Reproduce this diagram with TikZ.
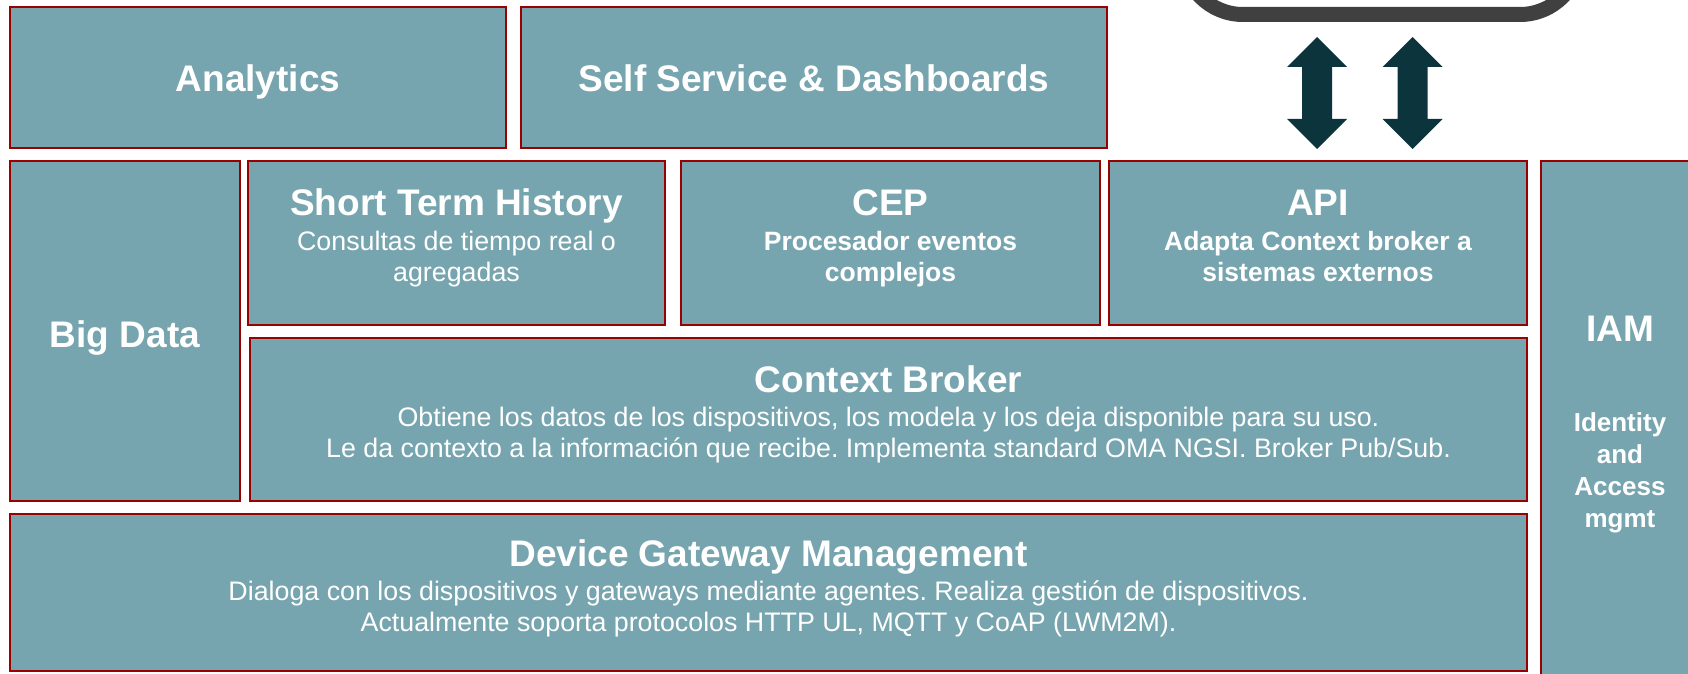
\documentclass[tikz,border=0pt]{standalone}
\usepackage{fontspec}
\setmainfont{Liberation Sans}
\frenchspacing
\definecolor{boxfill}{HTML}{76A5AF}
\definecolor{boxline}{HTML}{990000}
\definecolor{arrowcol}{HTML}{0C343D}
\definecolor{framegray}{HTML}{404040}
\tikzset{
  blk/.style={draw=boxline, fill=boxfill, line width=1pt, inner sep=0pt, outer sep=0pt},
  ttl/.style={text=white, font=\fontsize{18.5}{22}\selectfont\bfseries, anchor=base, inner sep=0pt},
  subr/.style={text=white, font=\fontsize{13.4}{16}\selectfont, anchor=base, inner sep=0pt},
  subb/.style={text=white, font=\fontsize{13.25}{16}\selectfont\bfseries, anchor=base, inner sep=0pt},
  desc/.style={text=white, font=\fontsize{13.4}{16}\selectfont, anchor=base, inner sep=0pt},
  iamsub/.style={text=white, font=\fontsize{13}{15}\selectfont\bfseries, anchor=base, inner sep=0pt},
  dblarrow/.style={fill=arrowcol, draw=none},
  frame/.style={draw=framegray, line width=7.5pt, rounded corners=30pt}
}
\begin{document}
\begin{tikzpicture}[x=0.5pt, y=-0.5pt]
\useasboundingbox (0,0) rectangle (1688,674);
\clip (0,0) rectangle (1688,674);
% top-right rounded frame (cut off)
\draw[frame] (1183,-200) rectangle (1580,14.5);
% double arrows
\fill[dblarrow] (1317,37) -- (1347,67) -- (1332,67) -- (1332,119) -- (1347,119) -- (1317,149) -- (1287,119) -- (1302,119) -- (1302,67) -- (1287,67) -- cycle;
\fill[dblarrow] (1412.5,37) -- (1442.5,67) -- (1427.5,67) -- (1427.5,119) -- (1442.5,119) -- (1412.5,149) -- (1382.5,119) -- (1397.5,119) -- (1397.5,67) -- (1382.5,67) -- cycle;
% boxes
\node[blk, minimum width=248pt, minimum height=70.5pt] (analytics) at (258,78) {};
\node[blk, minimum width=293pt, minimum height=70.5pt] (selfservice) at (814,78) {};
\node[blk, minimum width=115pt, minimum height=169.5pt] (bigdata) at (125,331) {};
\node[blk, minimum width=208.5pt, minimum height=81.5pt] (sth) at (456.5,243) {};
\node[blk, minimum width=209.5pt, minimum height=81.5pt] (cep) at (890.5,243) {};
\node[blk, minimum width=209pt, minimum height=81.5pt] (api) at (1318,243) {};
\node[blk, minimum width=638.5pt, minimum height=81.5pt] (cb) at (888.5,419.5) {};
\node[blk, minimum width=758.5pt, minimum height=78.25pt] (dgm) at (768.5,592.25) {};
\node[blk, minimum width=84.5pt, minimum height=269.25pt] (iam) at (1625.5,430.75) {};
% texts
\node[ttl] (analyticsT) at (258,92) {Analytics};
\node[ttl] (selfserviceT) at (814,92) {Self Service \& Dashboards};
\node[ttl] (bigdataT) at (125,347) {Big Data};
\node[ttl] (sthT) at (456.5,215) {Short Term History};
\node[subr] (sthA) at (456.5,250) {Consultas de tiempo real o};
\node[subr] (sthB) at (456.5,281) {agregadas};
\node[ttl] (cepT) at (890.5,215) {CEP};
\node[subb] (cepA) at (890.5,250) {Procesador eventos};
\node[subb] (cepB) at (890.5,281) {complejos};
\node[ttl] (apiT) at (1318,215) {API};
\node[subb] (apiA) at (1318,250) {Adapta Context broker a};
\node[subb] (apiB) at (1318,281) {sistemas externos};
\node[ttl] (cbT) at (888.5,392) {Context Broker};
\node[desc] (cbA) at (888.5,426) {Obtiene los datos de los dispositivos, los modela y los deja disponible para su uso.};
\node[desc] (cbB) at (888.5,457) {Le da contexto a la información que recibe. Implementa standard OMA NGSI. Broker Pub/Sub.};
\node[ttl] (dgmT) at (768.5,566) {Device Gateway Management};
\node[desc] (dgmA) at (768.5,600.7) {Dialoga con los dispositivos y gateways mediante agentes. Realiza gestión de dispositivos.};
\node[desc] (dgmB) at (768.5,631.7) {Actualmente soporta protocolos HTTP UL, MQTT y CoAP (LWM2M).};
\node[ttl] (iamT) at (1620,341) {IAM};
\node[iamsub] (iamA) at (1620,431) {Identity};
\node[iamsub] (iamB) at (1620,463) {and};
\node[iamsub] (iamC) at (1620,495) {Access};
\node[iamsub] (iamD) at (1620,527) {mgmt};
\end{tikzpicture}
\end{document}
